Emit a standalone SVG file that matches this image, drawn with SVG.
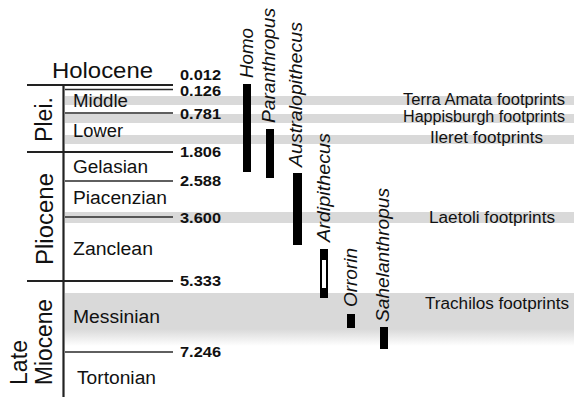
<svg xmlns="http://www.w3.org/2000/svg" width="574" height="397" viewBox="0 0 574 397">
<defs>
<linearGradient id="fade" x1="0" y1="0" x2="0" y2="1">
<stop offset="0" stop-color="#d9d9d9"/>
<stop offset="0.68" stop-color="#d9d9d9"/>
<stop offset="1" stop-color="#ffffff"/>
</linearGradient>
</defs>
<style>
text{font-family:"Liberation Sans",Arial,Helvetica,sans-serif;fill:#111}
.band{fill:#d9d9d9}
.thick{stroke:#222;stroke-width:2.2;fill:none}
.thin{stroke:#2a2a2a;stroke-width:1.5;fill:none}
.stage{font-size:18px}
.num{font-size:14.5px;font-weight:bold}
.epoch{font-size:23px}
.fp{font-size:16px}
.genus{font-size:18px;font-style:italic}
.bar{fill:#000}
</style>
<g id="bands">
<rect class="band" x="65" y="96" width="509" height="9"/>
<rect class="band" x="65" y="114" width="509" height="9"/>
<rect class="band" x="65" y="135" width="509" height="9"/>
<rect class="band" x="65" y="212" width="509" height="11"/>
<rect x="65" y="293" width="509" height="53" fill="url(#fade)"/>
</g>
<g id="connectors">
<line class="thick" x1="27" y1="85" x2="173" y2="85"/>
<line class="thin" x1="65" y1="89.5" x2="173" y2="89.5"/>
<line class="thin" x1="65" y1="113" x2="173" y2="113"/>
<line class="thick" x1="27" y1="152" x2="173" y2="152"/>
<line class="thin" x1="65" y1="181" x2="173" y2="181"/>
<line class="thin" x1="65" y1="217" x2="173" y2="217"/>
<line class="thick" x1="27" y1="281" x2="173" y2="281"/>
<line class="thin" x1="65" y1="352" x2="173" y2="352"/>
<line class="thick" x1="63.5" y1="84" x2="63.5" y2="397"/>
</g>
<g id="holocene"><text x="52" y="78" style="font-size:22px" textLength="101" lengthAdjust="spacingAndGlyphs">Holocene</text></g>
<g id="plei"><text class="epoch" transform="translate(52,142) rotate(-90)" textLength="45" lengthAdjust="spacingAndGlyphs">Plei.</text></g>
<g id="pliocene"><text class="epoch" transform="translate(53,265) rotate(-90)" textLength="92" lengthAdjust="spacingAndGlyphs">Pliocene</text></g>
<g id="late-miocene">
<text class="epoch" transform="translate(27,385) rotate(-90)" textLength="45" lengthAdjust="spacingAndGlyphs">Late</text>
<text class="epoch" transform="translate(52,385) rotate(-90)" textLength="86" lengthAdjust="spacingAndGlyphs">Miocene</text>
</g>
<g id="stages">
<text class="stage" x="73" y="107" textLength="55" lengthAdjust="spacingAndGlyphs">Middle</text>
<text class="stage" x="73" y="137" textLength="50" lengthAdjust="spacingAndGlyphs">Lower</text>
<text class="stage" x="73" y="173" textLength="75" lengthAdjust="spacingAndGlyphs">Gelasian</text>
<text class="stage" x="73" y="204" textLength="94" lengthAdjust="spacingAndGlyphs">Piacenzian</text>
<text class="stage" x="73" y="255" textLength="80" lengthAdjust="spacingAndGlyphs">Zanclean</text>
<text class="stage" x="73" y="323" textLength="87" lengthAdjust="spacingAndGlyphs">Messinian</text>
<text class="stage" x="77" y="384" textLength="79" lengthAdjust="spacingAndGlyphs">Tortonian</text>
</g>
<g id="ages">
<text class="num" x="180" y="80" textLength="41" lengthAdjust="spacingAndGlyphs">0.012</text>
<text class="num" x="180" y="96" textLength="41" lengthAdjust="spacingAndGlyphs">0.126</text>
<text class="num" x="180" y="119" textLength="41" lengthAdjust="spacingAndGlyphs">0.781</text>
<text class="num" x="180" y="157" textLength="41" lengthAdjust="spacingAndGlyphs">1.806</text>
<text class="num" x="180" y="186" textLength="41" lengthAdjust="spacingAndGlyphs">2.588</text>
<text class="num" x="180" y="223" textLength="41" lengthAdjust="spacingAndGlyphs">3.600</text>
<text class="num" x="180" y="286" textLength="41" lengthAdjust="spacingAndGlyphs">5.333</text>
<text class="num" x="180" y="357" textLength="41" lengthAdjust="spacingAndGlyphs">7.246</text>
</g>
<g id="homo">
<rect class="bar" x="243" y="84" width="8" height="88"/>
<text class="genus" transform="translate(253,78) rotate(-90)" textLength="50" lengthAdjust="spacingAndGlyphs">Homo</text>
</g>
<g id="paranthropus">
<rect class="bar" x="266" y="129" width="8" height="49"/>
<text class="genus" transform="translate(275,123) rotate(-90)" textLength="115" lengthAdjust="spacingAndGlyphs">Paranthropus</text>
</g>
<g id="australopithecus">
<rect class="bar" x="293" y="173" width="9" height="72"/>
<text class="genus" transform="translate(302,167) rotate(-90)" textLength="145" lengthAdjust="spacingAndGlyphs">Australopithecus</text>
</g>
<g id="ardipithecus">
<rect class="bar" x="320" y="249" width="8" height="49"/>
<rect x="322" y="260" width="4" height="28" fill="#fff"/>
<text class="genus" transform="translate(330,242) rotate(-90)" textLength="109" lengthAdjust="spacingAndGlyphs">Ardipithecus</text>
</g>
<g id="orrorin">
<rect class="bar" x="347" y="314" width="8" height="14"/>
<text class="genus" transform="translate(357,307) rotate(-90)" textLength="59" lengthAdjust="spacingAndGlyphs">Orrorin</text>
</g>
<g id="sahelanthropus">
<rect class="bar" x="380" y="327" width="8" height="22"/>
<text class="genus" transform="translate(389,322) rotate(-90)" textLength="134" lengthAdjust="spacingAndGlyphs">Sahelanthropus</text>
</g>
<g id="footprints">
<text class="fp" x="403" y="105" textLength="162" lengthAdjust="spacingAndGlyphs">Terra Amata footprints</text>
<text class="fp" x="403" y="122" textLength="162" lengthAdjust="spacingAndGlyphs">Happisburgh footprints</text>
<text class="fp" x="430" y="143" textLength="113" lengthAdjust="spacingAndGlyphs">Ileret footprints</text>
<text class="fp" x="429" y="223" textLength="126" lengthAdjust="spacingAndGlyphs">Laetoli footprints</text>
<text class="fp" x="425" y="309" textLength="144" lengthAdjust="spacingAndGlyphs">Trachilos footprints</text>
</g>
</svg>
